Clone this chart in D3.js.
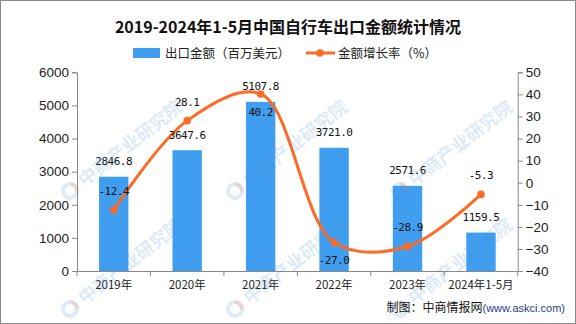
<!DOCTYPE html>
<html><head><meta charset="utf-8">
<script src="https://cdn.jsdelivr.net/npm/d3@7"></script>
<style>html,body{margin:0;padding:0;background:#fff;}svg{display:block;}</style>
</head><body>
<svg id="c" width="576" height="324"></svg>
<script>
const categories = ["2019年","2020年","2021年","2022年","2023年","2024年1-5月"];
const exportValues = [2846.8, 3647.6, 5107.8, 3721.0, 2571.6, 1159.5];
const growthRates = [-12.4, 28.1, 40.2, -27.0, -28.9, -5.3];
const growthLabelSide = ["above","above","below","below","above","above"];
const leftTicks = [0,1000,2000,3000,4000,5000,6000];
const rightTicks = [-40,-30,-20,-10,0,10,20,30,40,50];

(function(){
const W = 576, H = 324;
const svg = d3.select("#c");
const pLeft = 77, pRight = 517.7, pTop = 72.3, pBottom = 271;
const BLUE = "#3f9ef0", ORANGE = "#ff6a24";

svg.append("rect").attr("x",0).attr("y",0).attr("width",W).attr("height",H).attr("fill","#fff");

const x = d3.scaleBand().domain(categories).range([pLeft,pRight]).padding(0);
const yL = d3.scaleLinear().domain([0,6000]).range([pBottom,pTop]);
const yR = d3.scaleLinear().domain([-40,50]).range([pBottom,pTop]);

// title
svg.append("text").attr("x",288).attr("y",33).attr("text-anchor","middle")
  .attr("font-family","'Noto Sans CJK SC',sans-serif").attr("font-weight","bold").attr("font-size",16)
  .attr("fill","#111").text("2019-2024年1-5月中国自行车出口金额统计情况");

// legend
const lg = svg.append("g").attr("font-family","'Noto Sans CJK SC',sans-serif").attr("font-size",12.5).attr("fill","#222");
lg.append("rect").attr("x",133).attr("y",48).attr("width",27).attr("height",10).attr("fill",BLUE);
lg.append("text").attr("x",165).attr("y",57.5).text("出口金额（百万美元）");
lg.append("line").attr("x1",306).attr("x2",335).attr("y1",53).attr("y2",53).attr("stroke",ORANGE).attr("stroke-width",3);
lg.append("circle").attr("cx",320).attr("cy",53).attr("r",3.8).attr("fill",ORANGE);
lg.append("text").attr("x",338).attr("y",57.5).text("金额增长率（%）");

// axes
const axisColor = "#888";
const gl = svg.append("g").attr("transform",`translate(${pLeft},0)`)
  .call(d3.axisLeft(yL).tickValues(leftTicks).tickSize(5).tickPadding(3).tickFormat(d3.format("d")));
const gr = svg.append("g").attr("transform",`translate(${pRight},0)`)
  .call(d3.axisRight(yR).tickValues(rightTicks).tickSize(5).tickPadding(3).tickFormat(d=>d<0?"−"+Math.abs(d):d));
const gx = svg.append("g").attr("transform",`translate(0,${pBottom})`)
  .call(d3.axisBottom(x).tickSize(0).tickPadding(11));
[gl,gr].forEach(g=>{
  g.selectAll("path,line").attr("stroke",axisColor);
  g.selectAll("text").attr("font-family","'Liberation Sans',Arial,sans-serif").attr("font-size",13.5).attr("fill","#222");
});
gx.select("path").attr("stroke",axisColor).attr("d",`M${pLeft},0.5H${pRight}`);
gx.selectAll("text").attr("font-family","'Noto Sans CJK SC',sans-serif").attr("font-size",11.5).attr("fill","#222").attr("dy","0.6em");
const bounds = categories.map(c=>x(c)).concat([pRight]);
gx.selectAll(".bt").data(bounds).join("line").attr("class","bt")
  .attr("x1",d=>d).attr("x2",d=>d).attr("y1",0).attr("y2",5).attr("stroke",axisColor);

// bars
const bw = x.bandwidth()*0.4;
svg.append("g").selectAll("rect").data(exportValues).join("rect")
  .attr("x",(d,i)=>x(categories[i])+x.bandwidth()/2-bw/2)
  .attr("y",d=>yL(d)).attr("width",bw).attr("height",d=>pBottom-yL(d)).attr("fill",BLUE);

// line
const pts = growthRates.map((d,i)=>[x(categories[i])+x.bandwidth()/2, yR(d)]);
svg.append("path").attr("d",d3.line().curve(d3.curveCatmullRom.alpha(0.5))(pts))
  .attr("fill","none").attr("stroke",ORANGE).attr("stroke-width",3);
svg.append("g").selectAll("circle").data(pts).join("circle")
  .attr("cx",d=>d[0]).attr("cy",d=>d[1]).attr("r",3.8).attr("fill",ORANGE);

const labelFont = "'DejaVu Sans Mono',monospace";
svg.append("g").selectAll("text").data(exportValues).join("text")
  .attr("x",(d,i)=>x(categories[i])+x.bandwidth()/2).attr("y",d=>yL(d)-11.5)
  .attr("text-anchor","middle").attr("font-family",labelFont).attr("font-size",11).attr("letter-spacing",-0.5)
  .attr("fill","#111").text(d=>d.toFixed(1));
svg.append("g").selectAll("text").data(growthRates).join("text")
  .attr("x",(d,i)=>pts[i][0]).attr("y",(d,i)=>growthLabelSide[i]==="above"?pts[i][1]-15:pts[i][1]+21.8)
  .attr("text-anchor","middle").attr("font-family",labelFont).attr("font-size",11).attr("letter-spacing",-0.5)
  .attr("fill","#111").text(d=>d.toFixed(1));

// watermarks (only those fully inside the picture)
const wm = svg.append("g").attr("pointer-events","none");
for (let gy=-45; gy<360; gy+=118) {
  for (let gxp=-95; gxp<620; gxp+=165) {
    if (gxp-9 < 0 || gxp+116 > W || gy-98 < 0 || gy+10 > H) continue;
    const g = wm.append("g").attr("transform",`translate(${gxp},${gy})`);
    g.append("circle").attr("r",7).attr("fill","none").attr("stroke","#4a90d0").attr("stroke-width",4).attr("opacity",0.18);
    g.append("path").attr("d",d3.arc()({innerRadius:5,outerRadius:9,startAngle:0,endAngle:Math.PI/2}))
      .attr("fill","#f08a5a").attr("opacity",0.22);
    g.append("text").attr("x",14).attr("y",6).attr("transform","rotate(-38)")
      .attr("font-family","'Noto Sans CJK SC',sans-serif").attr("font-weight","bold").attr("font-size",18)
      .attr("fill","#4a90d0").attr("opacity",0.18).text("中商产业研究院");
  }
}

// source
const src = svg.append("text").attr("x",565).attr("y",312).attr("text-anchor","end");
src.append("tspan").attr("font-family","'Noto Sans CJK SC',sans-serif").attr("font-size",12).attr("fill","#111").text("制图：中商情报网");
src.append("tspan").attr("font-family","'Liberation Sans',Arial,sans-serif").attr("font-size",11).attr("fill","#1f3c88").text("(www.askci.com)");

svg.append("rect").attr("x",0.5).attr("y",0.5).attr("width",W-1).attr("height",H-1).attr("fill","none").attr("stroke","#888");
})();
</script>
</body></html>
